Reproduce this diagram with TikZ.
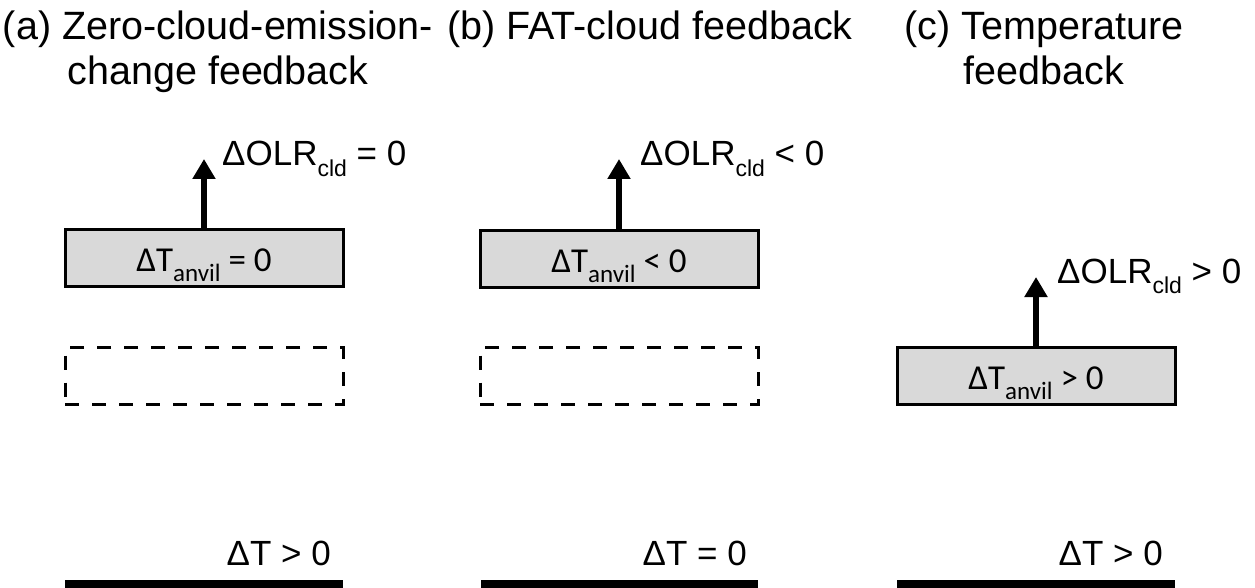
\documentclass[tikz,border=0pt]{standalone}
\usepackage{fontspec}
\setmainfont{Liberation Sans}
\newfontfamily\boxfont{Carlito}
\usetikzlibrary{arrows.meta}
\definecolor{boxgray}{HTML}{D9D9D9}
\newcommand{\lsub}[1]{\raisebox{-0.3em}{\fontsize{23}{23}\selectfont #1}}
\newcommand{\bsub}[1]{\raisebox{-0.3em}{\fontsize{25}{25}\selectfont #1}}
\tikzset{
  title/.style={font=\fontsize{39.5}{45}\selectfont, inner sep=0pt, align=center},
  lab/.style={font=\fontsize{35}{35}\selectfont, inner sep=0pt},
  cloudbox/.style={draw, line width=3pt, fill=boxgray, minimum width=278pt, minimum height=57pt, inner sep=0pt, text height=31pt, text depth=5pt, font=\boxfont\fontsize{35}{35}\selectfont},
  ghostbox/.style={draw, line width=3pt, dash pattern=on 14pt off 13pt, minimum width=278pt, minimum height=57pt, inner sep=0pt},
  upflux/.style={line width=5.5pt, -{Triangle[width=22pt,length=20pt]}},
  surface/.style={fill=black}
}
\begin{document}
\begin{tikzpicture}[x=1pt,y=-1pt]
\useasboundingbox (0,0) rectangle (1255,588);
% titles
\node[title, anchor=north] (ta) at (218,11) {(a) Zero-cloud-emission-\\change feedback};
\node[title, anchor=north west] (tb) at (447,11) {(b) FAT-cloud feedback};
\node[title, anchor=north] (tc) at (1044,11) {(c) Temperature\\feedback};
% panel a
\node[cloudbox] (boxa) at (204,258) {ΔT\bsub{anvil} = 0};
\node[ghostbox] (ghosta) at (204,376) {};
\coordinate (tipa) at (204,159);
\draw[upflux] (boxa.north) -- (tipa);
\node[lab, anchor=base west] (olra) at (222,166) {ΔOLR\lsub{cld} = 0};
\fill[surface] (65,580) rectangle (343,592);
\node[lab, anchor=base east] (dta) at (331,565) {ΔT > 0};
% panel b
\node[cloudbox] (boxb) at (619,259) {ΔT\bsub{anvil} < 0};
\node[ghostbox] (ghostb) at (619,376) {};
\coordinate (tipb) at (619,159);
\draw[upflux] (boxb.north) -- (tipb);
\node[lab, anchor=base west] (olrb) at (640,166) {ΔOLR\lsub{cld} < 0};
\fill[surface] (481,580) rectangle (758,592);
\node[lab, anchor=base east] (dtb) at (747,565) {ΔT = 0};
% panel c
\node[cloudbox] (boxc) at (1036,376) {ΔT\bsub{anvil} > 0};
\coordinate (tipc) at (1036,277);
\draw[upflux] (boxc.north) -- (tipc);
\node[lab, anchor=base west] (olrc) at (1057,283) {ΔOLR\lsub{cld} > 0};
\fill[surface] (897,580) rectangle (1175,592);
\node[lab, anchor=base east] (dtc) at (1163,565) {ΔT > 0};
\end{tikzpicture}
\end{document}
